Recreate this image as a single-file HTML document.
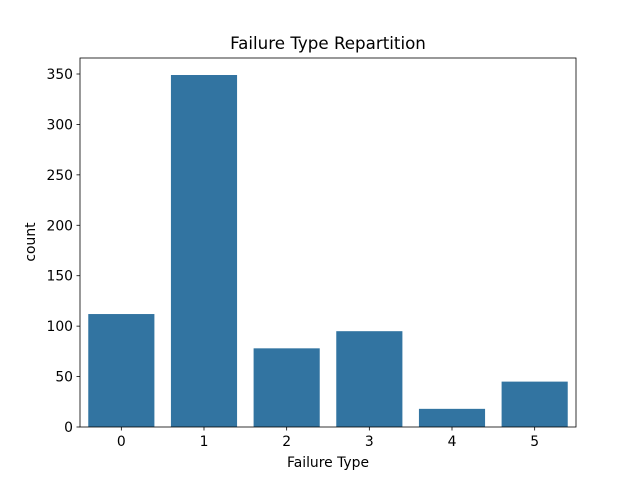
<!DOCTYPE html>
<html><head><meta charset="utf-8"><style>
body{margin:0;background:#fff}
text{font-family:"DejaVu Sans","Liberation Sans",sans-serif;fill:#000}
</style></head><body>
<svg id="chart" width="640" height="480" xmlns="http://www.w3.org/2000/svg">
<rect width="640" height="480" fill="#fff"/>
<text x="328" y="49" font-size="16.7" text-anchor="middle">Failure Type Repartition</text>
<text x="328" y="467" font-size="13.9" text-anchor="middle">Failure Type</text>
<text transform="translate(35,242) rotate(-90)" font-size="13.9" text-anchor="middle">count</text>
<g id="plot"></g>
</svg>
<script>
const categories = ["0","1","2","3","4","5"];
const counts = [112, 349, 78, 95, 18, 45];
const yTicks = [0,50,100,150,200,250,300,350];

const L=80,R=576,T=58,B=427;
const yMax=(B-T)/ (353/350);
function y(v){return B-(v/yMax)*(B-T);}
const band=(R-L)/categories.length;
function xc(i){return L+band*(i+0.5);}
const NS="http://www.w3.org/2000/svg";
const g=document.getElementById('plot');
function mk(tag,attrs,parent){const e=document.createElementNS(NS,tag);for(const k in attrs)e.setAttribute(k,attrs[k]);(parent||g).appendChild(e);return e;}

counts.forEach((v,i)=>{
  const r=mk('rect',{x:xc(i)-band*0.4,y:y(v),width:band*0.8,height:B-y(v),fill:'#3274a1'});
  
  
});
yTicks.forEach(t=>{
  const yy=y(t);
  const l=mk('line',{x1:L-3.5,x2:L,y1:yy,y2:yy,stroke:'#000','stroke-width':0.8});
  
  
  const tx=mk('text',{x:L-7,y:yy+5,'font-size':13.9,'text-anchor':'end'});
  tx.textContent=t;
  
  
});
categories.forEach((c,i)=>{
  const l=mk('line',{x1:xc(i),x2:xc(i),y1:B,y2:B+3.5,stroke:'#000','stroke-width':0.8});
  
  
  const tx=mk('text',{x:xc(i),y:B+19,'font-size':13.9,'text-anchor':'middle'});
  tx.textContent=c;
  
  
});
const f=mk('rect',{x:L,y:T,width:R-L,height:B-T,fill:'none',stroke:'#000','stroke-width':0.8});


</script>
</body></html>
